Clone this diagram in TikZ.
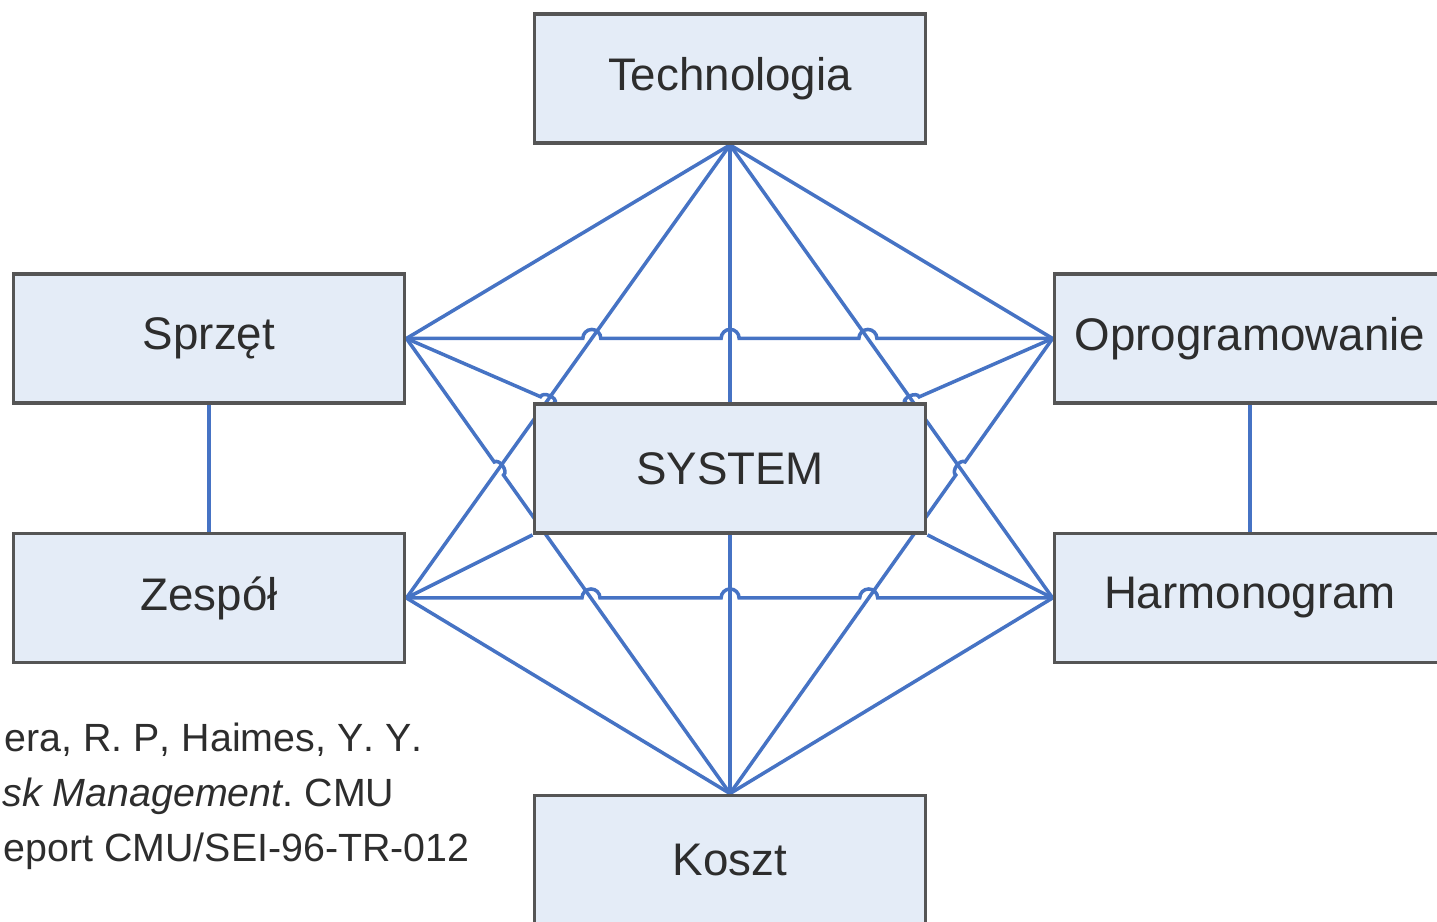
\documentclass[tikz,border=0pt]{standalone}
\usepackage{fontspec}
\setmainfont{Liberation Sans}
\usetikzlibrary{calc}
\pgfdeclarelayer{background}
\pgfsetlayers{background,main}
\definecolor{linkblue}{RGB}{70,115,196}
\definecolor{boxfill}{RGB}{228,236,247}
\definecolor{boxline}{RGB}{85,85,85}
\definecolor{txt}{RGB}{45,45,45}
\def\hr{0.09}
\def\hd{0.08cm}
\begin{document}
\frenchspacing
\begin{tikzpicture}
\tikzstyle{box}=[draw=boxline, fill=boxfill, line width=1.1pt, minimum width=3.91cm, minimum height=1.29cm, inner sep=0pt, font=\fontsize{13}{15}\selectfont, text=txt]
\tikzstyle{link}=[draw=linkblue, line width=1pt]
\tikzstyle{ref}=[anchor=base west, inner sep=0pt, font=\fontsize{11.2}{13}\selectfont\addfontfeatures{Kerning=Off}, text=txt]
\useasboundingbox (0,0) rectangle (14.37,9.22);

\node[box] (tech) at (7.30,8.435) {Technologia};
\node[box] (sp) at (2.09,5.835) {Sprzęt};
\node[box] (op) at (12.50,5.835) {Oprogramowanie};
\node[box] (sys) at (7.30,4.535) {SYSTEM};
\node[box] (ze) at (2.09,3.24) {Zespół};
\node[box] (ha) at (12.50,3.24) {Harmonogram};
\node[box] (ko) at (7.30,0.62) {Koszt};

\node[ref] (ref1) at (0.04,1.70) {era, R. P, Haimes, Y. Y.};
\node[ref] (ref2) at (0.02,1.15) {\textit{sk Management}. CMU};
\node[ref] (ref3) at (0.03,0.60) {eport CMU/SEI-96-TR-012};

% connector ends on SYSTEM top edge
\coordinate (snw) at ([xshift=0.2cm]sys.north west);
\coordinate (sne) at ([xshift=-0.2cm]sys.north east);

% crossing points
\coordinate (h1) at (intersection of sp.east--op.west and tech.south--ze.east);
\coordinate (h2) at (intersection of sp.east--op.west and tech.south--sys.north);
\coordinate (h3) at (intersection of sp.east--op.west and tech.south--ha.west);
\coordinate (l1) at (intersection of ze.east--ha.west and ko.north--sp.east);
\coordinate (l2) at (intersection of ze.east--ha.west and ko.north--sys.south);
\coordinate (l3) at (intersection of ze.east--ha.west and ko.north--op.west);
\coordinate (d1) at (intersection of sp.east--snw and tech.south--ze.east);
\coordinate (d2) at (intersection of op.west--sne and tech.south--ha.west);
\coordinate (d3) at (intersection of sp.east--ko.north and tech.south--ze.east);
\coordinate (d4) at (intersection of op.west--ko.north and tech.south--ha.west);

\begin{pgfonlayer}{background}
\draw [link] (tech.south) -- (sp.east);
\draw [link] (tech.south) -- (op.west);
\draw [link] (tech.south) -- (sys.north);
\draw [link] (tech.south) -- (ze.east);
\draw [link] (tech.south) -- (ha.west);

\draw [link] (ko.north) -- (ze.east);
\draw [link] (ko.north) -- (ha.west);
\draw [link] (ko.north) -- (sys.south);

\draw [link] (sp.south) -- (ze.north);
\draw [link] (op.south) -- (ha.north);
\draw [link] (ze.east) -- (sys.south west);
\draw [link] (ha.west) -- (sys.south east);

% lines with hops
\draw [link] (sp.east) -- ($(h1)+(-\hr,0)$) arc[start angle=180,end angle=0,radius=\hr]
  -- ($(h2)+(-\hr,0)$) arc[start angle=180,end angle=0,radius=\hr]
  -- ($(h3)+(-\hr,0)$) arc[start angle=180,end angle=0,radius=\hr] -- (op.west);
\draw [link] (ze.east) -- ($(l1)+(-\hr,0)$) arc[start angle=180,end angle=0,radius=\hr]
  -- ($(l2)+(-\hr,0)$) arc[start angle=180,end angle=0,radius=\hr]
  -- ($(l3)+(-\hr,0)$) arc[start angle=180,end angle=0,radius=\hr] -- (ha.west);

\draw [link] (sp.east) -- ($(d1)!\hd!(sp.east)$) to[bend left=90] ($(d1)!\hd!(snw)$) -- (snw);
\draw [link] (op.west) -- ($(d2)!\hd!(op.west)$) to[bend right=90] ($(d2)!\hd!(sne)$) -- (sne);
\draw [link] (sp.east) -- ($(d3)!\hd!(sp.east)$) to[bend left=90] ($(d3)!\hd!(ko.north)$) -- (ko.north);
\draw [link] (op.west) -- ($(d4)!\hd!(op.west)$) to[bend right=90] ($(d4)!\hd!(ko.north)$) -- (ko.north);
\end{pgfonlayer}
\end{tikzpicture}
\end{document}
